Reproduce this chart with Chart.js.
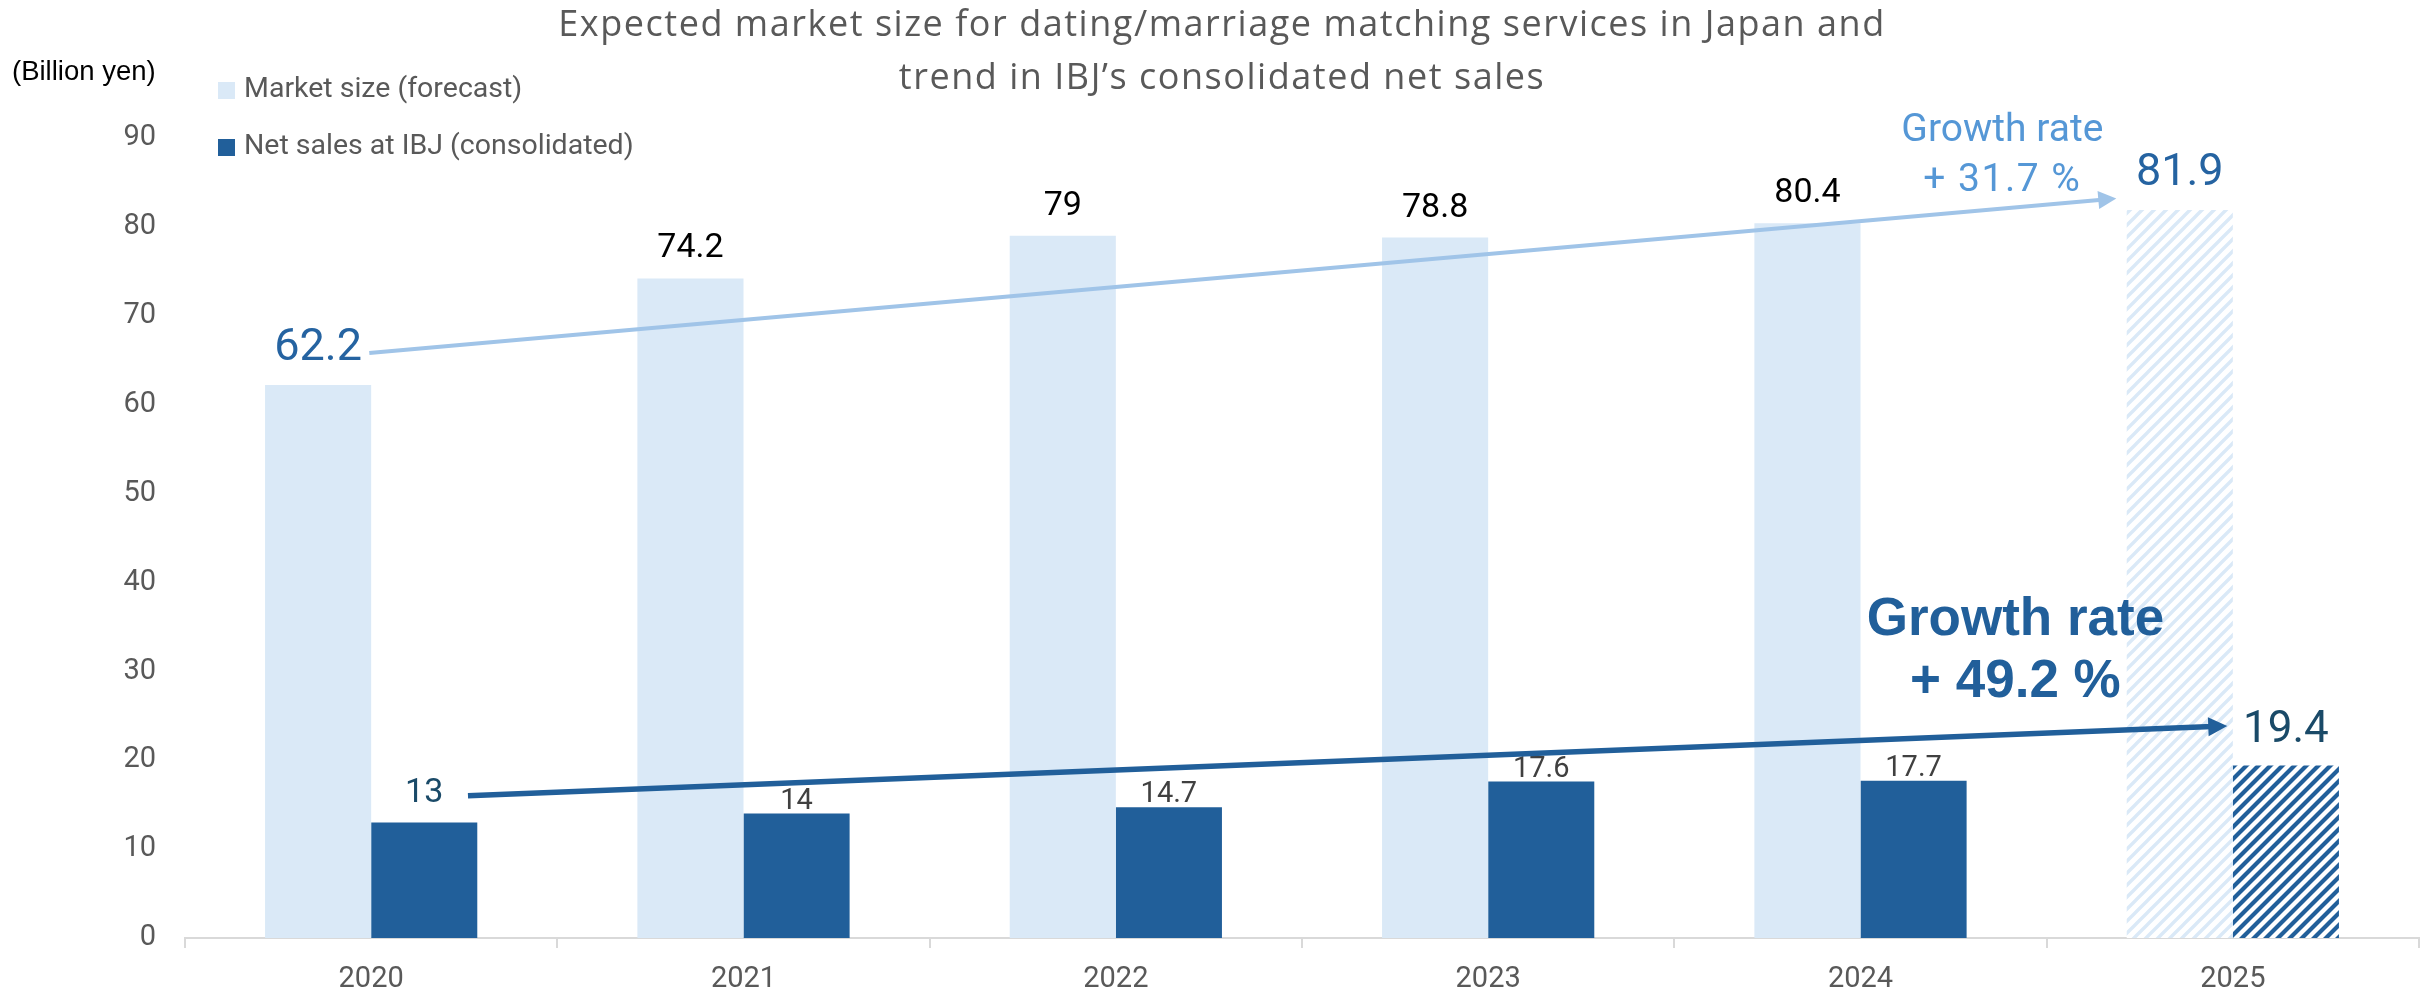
<!DOCTYPE html>
<html>
<head>
<meta charset="utf-8">
<script src="https://cdn.jsdelivr.net/npm/chart.js@4/dist/chart.umd.min.js"></script>
<style>
  html, body { margin: 0; padding: 0; background: #fff; }
  canvas { display: block; }
</style>
</head>
<body>
<canvas id="market" width="2425" height="995"></canvas>
<script>
// data
const years = ['2020', '2021', '2022', '2023', '2024', '2025'];
const marketSize = [62.2, 74.2, 79, 78.8, 80.4, 81.9];
const ibjSales = [13, 14, 14.7, 17.6, 17.7, 19.4];
const yTicks = [0, 10, 20, 30, 40, 50, 60, 70, 80, 90];
const titleLines = ['Expected market size for dating/marriage matching services in Japan and', 'trend in IBJ\u2019s consolidated net sales'];
const seriesNames = ['Market size (forecast)', 'Net sales at IBJ (consolidated)'];
const marketGrowth = ['Growth rate', '+ 31.7 %'];
const salesGrowth = ['Growth rate', '+ 49.2 %'];

const LIGHT = '#DAE9F7';
const DARK = '#215F9A';

const canvas = document.getElementById('market');
const ctx = canvas.getContext('2d');

// diagonal hatch for the forecast year
function hatch(color, w) {
  const p = 12;
  const t = document.createElement('canvas');
  t.width = p; t.height = p;
  const g = t.getContext('2d');
  g.fillStyle = '#fff';
  g.fillRect(0, 0, p, p);
  g.strokeStyle = color;
  g.lineWidth = w;
  g.beginPath();
  g.moveTo(0, p); g.lineTo(p, 0);
  g.moveTo(-p / 2, p / 2); g.lineTo(p / 2, -p / 2);
  g.moveTo(p / 2, p * 1.5); g.lineTo(p * 1.5, p / 2);
  g.stroke();
  return ctx.createPattern(t, 'repeat');
}

const lightColors = marketSize.map((v, i) => i === marketSize.length - 1 ? hatch(LIGHT, 3.4) : LIGHT);
const darkColors = ibjSales.map((v, i) => i === ibjSales.length - 1 ? hatch(DARK, 4.2) : DARK);

function arrow(c, x1, y1, x2, y2, color, w, head) {
  const a = Math.atan2(y2 - y1, x2 - x1);
  c.save();
  c.strokeStyle = color;
  c.fillStyle = color;
  c.lineWidth = w;
  c.beginPath();
  c.moveTo(x1, y1);
  c.lineTo(x2 - Math.cos(a) * head * 0.8, y2 - Math.sin(a) * head * 0.8);
  c.stroke();
  c.beginPath();
  c.moveTo(x2, y2);
  c.lineTo(x2 - head * Math.cos(a) + head * 0.5 * Math.sin(a), y2 - head * Math.sin(a) - head * 0.5 * Math.cos(a));
  c.lineTo(x2 - head * Math.cos(a) - head * 0.5 * Math.sin(a), y2 - head * Math.sin(a) + head * 0.5 * Math.cos(a));
  c.closePath();
  c.fill();
  c.restore();
}

// title, unit, legend, value labels and growth arrows
const decorations = {
  id: 'decorations',
  afterDatasetsDraw(chart) {
    const c = chart.ctx;
    const xs = chart.scales.x, ys = chart.scales.y;
    const px = v => xs.getPixelForValue(v);
    const py = v => ys.getPixelForValue(v);

    c.save();
    c.textAlign = 'center';
    c.textBaseline = 'alphabetic';
    c.fillStyle = '#595959';
    c.font = '36px "Open Sans"';
    // stretch the title a little to the width of the original wide font
    const natural = c.measureText(titleLines[0]).width;
    const spacing = Math.max(0, (1326 - natural) / (titleLines[0].length - 1));
    c.letterSpacing = spacing.toFixed(2) + 'px';
    c.fillText(titleLines[0], 1222, 36);
    c.fillText(titleLines[1], 1222, 89);
    c.letterSpacing = '0px';

    c.textAlign = 'left';
    c.fillStyle = '#000';
    c.font = '27.5px "Liberation Sans"';
    c.textBaseline = 'middle';
    c.fillText('(Billion yen)', 12, 72);

    // legend
    const legendCols = [LIGHT, DARK];
    c.font = '28.5px Roboto';
    seriesNames.forEach((name, i) => {
      const y = 90 + i * 57;
      c.fillStyle = legendCols[i];
      c.fillRect(218, y - 8, 17, 17);
      c.fillStyle = '#595959';
      c.fillText(name, 244, y);
    });

    // value labels
    c.textAlign = 'center';
    c.textBaseline = 'alphabetic';
    const m = chart.getDatasetMeta(0).data;
    m.forEach((bar, i) => {
      const big = i === 0 || i === m.length - 1;
      c.font = big ? '45px Roboto' : '34px Roboto';
      c.fillStyle = big ? '#2563A1' : '#000';
      c.fillText(String(marketSize[i]), bar.x, bar.y - (big ? 25 : 21));
    });
    const s = chart.getDatasetMeta(1).data;
    s.forEach((bar, i) => {
      const big = i === 0 || i === s.length - 1;
      c.font = big ? (i === 0 ? '34px Roboto' : '44px Roboto') : '29px Roboto';
      c.fillStyle = big ? '#1A4A68' : '#404040';
      c.fillText(String(ibjSales[i]), bar.x, bar.y - (big ? (i === 0 ? 20 : 24) : 5));
    });

    // growth arrows
    arrow(c, px(-0.005), py(65.8), px(4.687), py(83.2), '#A0C4E8', 4, 18);
    arrow(c, px(0.26), py(16.0), px(4.985), py(23.85), DARK, 5.5, 19);

    c.fillStyle = '#5597D6';
    c.font = '39px Roboto';
    c.fillText(marketGrowth[0], px(4.381), py(89.65));
    c.letterSpacing = '1.5px';
    c.fillText(marketGrowth[1], px(4.381), py(84.03));
    c.letterSpacing = '0px';

    c.fillStyle = DARK;
    c.font = 'bold 53px "Liberation Sans"';
    c.fillText(salesGrowth[0], px(4.416), py(34.08));
    c.fillText(salesGrowth[1], px(4.416), py(27.1));
    c.restore();
  }
};

const chart = new Chart(canvas, {
  type: 'bar',
  data: {
    labels: years,
    datasets: [
      { label: seriesNames[0], data: marketSize, backgroundColor: lightColors, borderWidth: 0 },
      { label: seriesNames[1], data: ibjSales, backgroundColor: darkColors, borderWidth: 0 }
    ]
  },
  options: {
    responsive: false,
    animation: false,
    devicePixelRatio: 1,
    categoryPercentage: 0.57,
    barPercentage: 1,
    layout: { padding: { top: 138, right: 6, left: 0, bottom: 0 } },
    plugins: {
      legend: { display: false },
      title: { display: false },
      tooltip: { enabled: false }
    },
    scales: {
      x: {
        afterFit: sc => { sc.height = 57; },
        grid: { display: true, drawOnChartArea: false, drawTicks: true, tickLength: 10, color: '#D9D9D9', lineWidth: 2 },
        border: { display: true, color: '#D9D9D9', width: 2 },
        ticks: { color: '#595959', font: { family: 'Roboto', size: 29 }, padding: 14 }
      },
      y: {
        min: 0,
        max: 90,
        afterFit: sc => { sc.width = 185; },
        afterBuildTicks: sc => { sc.ticks = yTicks.map(v => ({ value: v })); },
        grid: { display: false, drawTicks: false },
        border: { display: false },
        ticks: { color: '#595959', font: { family: 'Roboto', size: 29 }, padding: 29 }
      }
    }
  },
  plugins: [decorations]
});
</script>
</body>
</html>
